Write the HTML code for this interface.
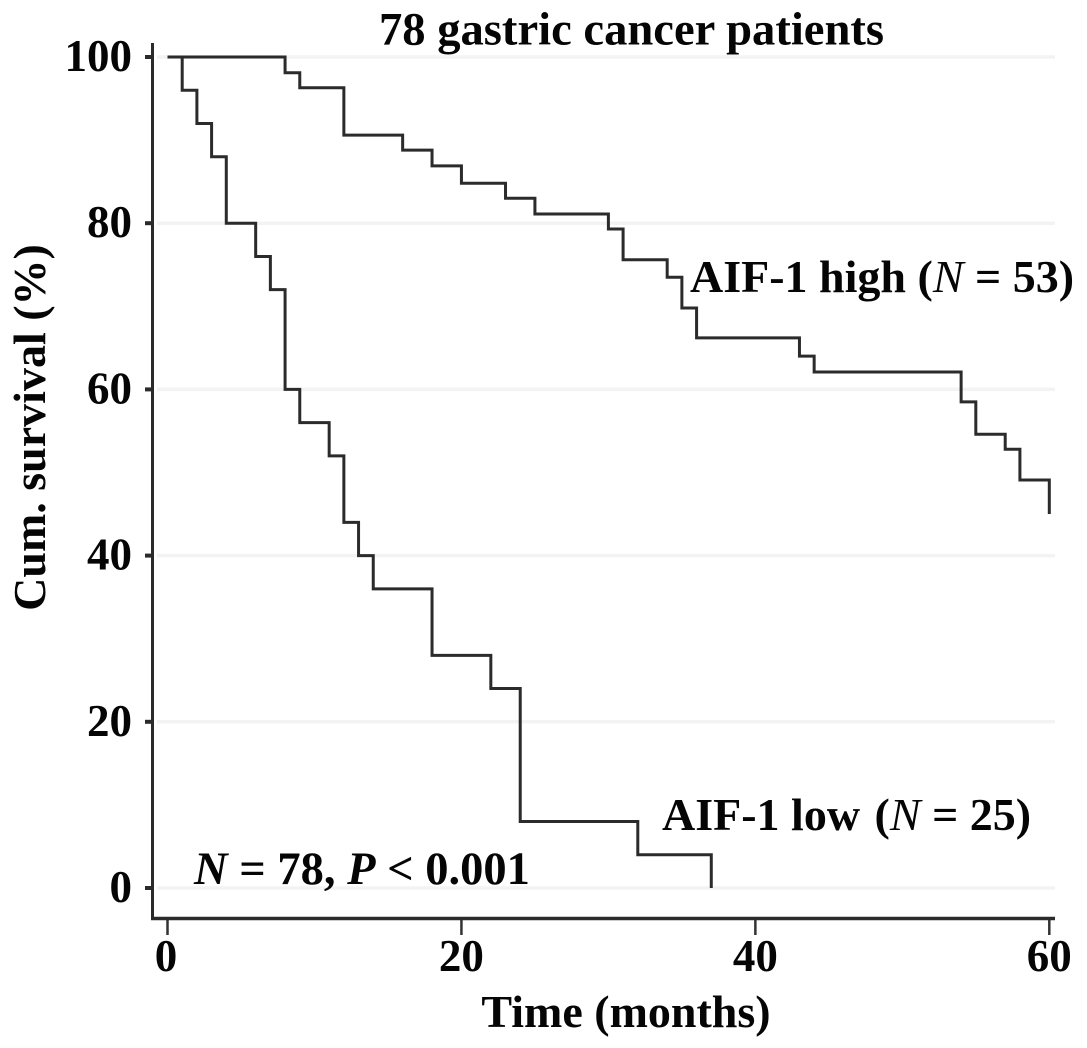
<!DOCTYPE html>
<html>
<head>
<meta charset="utf-8">
<style>
html,body{margin:0;padding:0;background:#fff;}
svg{display:block;}
text{font-family:"Liberation Serif",serif;font-weight:bold;fill:#050505;}
</style>
</head>
<body>
<svg id="chart" width="1087" height="1048" viewBox="0 0 1087 1048" xmlns="http://www.w3.org/2000/svg">
<g id="grid"></g>
<g id="axes"></g>
<g id="series"></g>
<text x="631.5" y="44.5" font-size="46.6" text-anchor="middle">78 gastric cancer patients</text>
<text transform="translate(45,427.5) rotate(-90)" font-size="46" text-anchor="middle">Cum. survival (%)</text>
<text x="626" y="1027" font-size="46" text-anchor="middle">Time (months)</text>
<text x="690" y="292" font-size="46">AIF-1 high (<tspan font-style="italic" font-weight="normal">N</tspan> = 53)</text>
<text x="662" y="830" font-size="46">AIF-1 low <tspan dx="3">(</tspan><tspan font-style="italic" font-weight="normal">N</tspan> = 25)</text>
<text x="194" y="884" font-size="46.5"><tspan font-style="italic">N</tspan> = 78, <tspan font-style="italic">P</tspan> &lt; 0.001</text>
</svg>
<script>
const xTicks = [0, 20, 40, 60];
const yTicks = [0, 20, 40, 60, 80, 100];
const highTimes = [0, 8, 9, 12, 16, 18, 20, 23, 25, 30, 31, 34, 35, 36, 43, 44, 54, 55, 57, 58, 60];
const highSurvival = [100, 98.1, 96.3, 90.6, 88.8, 86.9, 84.8, 83, 81.1, 79.3, 75.6, 73.5, 69.8, 66.2, 64, 62.1, 58.5, 54.6, 52.8, 49.1, 45];
const lowTimes = [0, 1, 2, 3, 4, 6, 7, 8, 9, 11, 12, 13, 14, 18, 22, 24, 32, 37];
const lowSurvival = [100, 96, 92, 88, 80, 76, 72, 60, 56, 52, 44, 40, 36, 28, 24, 8, 4, 0];

const NS = 'http://www.w3.org/2000/svg';
const xPos = v => 167.5 + v * (1049.3 - 167.5) / 60;
const yPos = v => 888 - v * (888 - 57) / 100;
const make = (tag, attrs, parent) => {
  const el = document.createElementNS(NS, tag);
  for (const k in attrs) el.setAttribute(k, attrs[k]);
  parent.appendChild(el);
  return el;
};
const grid = document.getElementById('grid');
const axes = document.getElementById('axes');
const series = document.getElementById('series');

yTicks.forEach(v => {
  const g = make('line', {x1: 157, x2: 1055, y1: yPos(v), y2: yPos(v), stroke: '#f3f3f3', 'stroke-width': 3.5}, grid);
  
  
  const t = make('line', {x1: 145, x2: 153, y1: yPos(v), y2: yPos(v), stroke: '#2b2b2b', 'stroke-width': 4}, axes);
  
  
  const l = make('text', {x: 132, y: yPos(v) + 14, 'font-size': 45, 'text-anchor': 'end'}, axes);
  
  
  l.textContent = v;
});
xTicks.forEach(v => {
  const t = make('line', {x1: xPos(v), x2: xPos(v), y1: 919, y2: 935, stroke: '#333', 'stroke-width': 2.5}, axes);
  
  
  const l = make('text', {x: xPos(v) - (v === 0 ? 1.5 : 0), y: 971, 'font-size': 45, 'text-anchor': 'middle'}, axes);
  
  
  l.textContent = v;
});
const yAxis = make('line', {x1: 152.5, x2: 152.5, y1: 43, y2: 920, stroke: '#2b2b2b', 'stroke-width': 3}, axes);


const xAxis = make('line', {x1: 151, x2: 1055, y1: 918.5, y2: 918.5, stroke: '#2b2b2b', 'stroke-width': 3.5}, axes);



const stepPath = (times, values) => {
  let d = 'M' + xPos(times[0]) + ' ' + yPos(values[0]);
  for (let i = 1; i < times.length; i++) {
    d += ' H' + xPos(times[i]) + ' V' + yPos(values[i]);
  }
  return d;
};
const high = make('path', {d: stepPath(highTimes, highSurvival), fill: 'none', stroke: '#2b2b2b', 'stroke-width': 3}, series);


const low = make('path', {d: stepPath(lowTimes, lowSurvival), fill: 'none', stroke: '#2b2b2b', 'stroke-width': 3}, series);


</script>
</body>
</html>
